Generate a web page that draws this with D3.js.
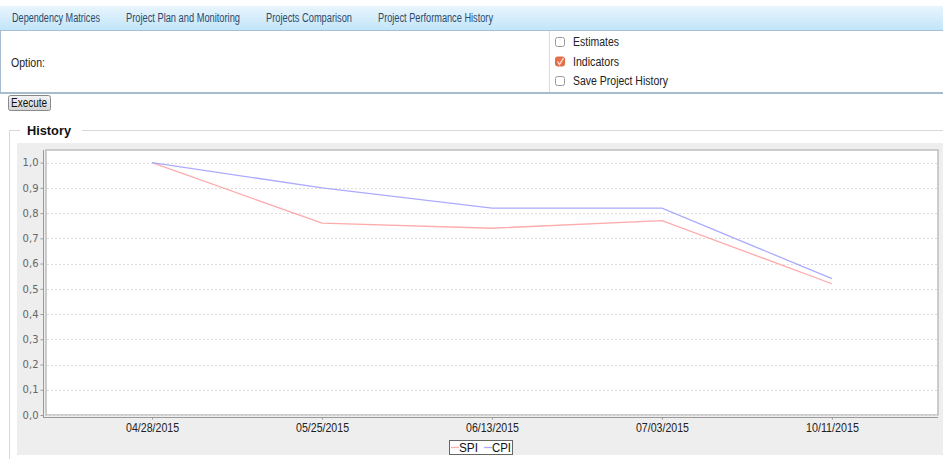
<!DOCTYPE html>
<html><head><meta charset="utf-8">
<script src="https://cdn.jsdelivr.net/npm/d3@7/dist/d3.min.js"></script>
<style>
html,body{margin:0;padding:0;background:#fff;}
svg{display:block;font-family:"Liberation Sans",Arial,sans-serif;}
</style></head>
<body>
<svg id="c" width="943" height="459"></svg>
<script>
const tabs = ["Dependency Matrices","Project Plan and Monitoring","Projects Comparison","Project Performance History"];
const tabX = [12,126,266,378];
const tabW = [88,114,86,115];
const options = ["Estimates","Indicators","Save Project History"];
const optionW = [46,46,95];
const optionChecked = [false,true,false];
const categories = ["04/28/2015","05/25/2015","06/13/2015","07/03/2015","10/11/2015"];
const spi = [1.0,0.76,0.74,0.77,0.52];
const cpi = [1.0,0.90,0.82,0.82,0.54];
const yTicks = [0,0.1,0.2,0.3,0.4,0.5,0.6,0.7,0.8,0.9,1.0];
const seriesNames = ["SPI","CPI"];
const seriesColors = ["#ffabab","#ababff"];

const svg = d3.select("#c");
const defs = svg.append("defs");
const g1 = defs.append("linearGradient").attr("id","tabg").attr("x1",0).attr("x2",0).attr("y1",0).attr("y2",1);
g1.append("stop").attr("offset","0%").attr("stop-color","#e8f5fd");
g1.append("stop").attr("offset","100%").attr("stop-color","#c2e5f9");
const g2 = defs.append("linearGradient").attr("id","btng").attr("x1",0).attr("x2",0).attr("y1",0).attr("y2",1);
g2.append("stop").attr("offset","0%").attr("stop-color","#f4f4f4");
g2.append("stop").attr("offset","100%").attr("stop-color","#d4d4d4");

function fit(sel, w){ sel.attr("textLength",w).attr("lengthAdjust","spacingAndGlyphs"); }

// tab bar
svg.append("rect").attr("x",0).attr("y",6).attr("width",943).attr("height",24).attr("fill","url(#tabg)");
svg.selectAll("text.tab").data(tabs).join("text").attr("class","tab")
  .attr("x",(d,i)=>tabX[i]).attr("y",22).attr("font-size",12).attr("fill","#2d4a6a").text(d=>d)
  .attr("textLength",(d,i)=>tabW[i]).attr("lengthAdjust","spacingAndGlyphs");

// option panel
svg.append("line").attr("x1",0).attr("x2",943).attr("y1",30.5).attr("y2",30.5).attr("stroke","#a8bfd3");
svg.append("line").attr("x1",0).attr("x2",943).attr("y1",93).attr("y2",93).attr("stroke","#a8bcd0").attr("stroke-width",2);
svg.append("line").attr("x1",0.5).attr("x2",0.5).attr("y1",30).attr("y2",93).attr("stroke","#a8bcd0");
svg.append("line").attr("x1",549.5).attr("x2",549.5).attr("y1",31).attr("y2",92).attr("stroke","#d6dde4");
svg.append("text").attr("x",11).attr("y",67).attr("font-size",12).attr("fill","#222").text("Option:").call(fit,34);
const og = svg.selectAll("g.opt").data(options).join("g").attr("class","opt")
  .attr("transform",(d,i)=>`translate(0,${42+i*19.5})`);
og.append("rect").attr("x",555.5).attr("y",-4.5).attr("width",9).attr("height",9).attr("rx",2)
  .attr("fill",(d,i)=>optionChecked[i]?"#e8704a":"#fff").attr("stroke",(d,i)=>optionChecked[i]?"#d86a48":"#9a9a9a");
og.filter((d,i)=>optionChecked[i]).append("path").attr("d","M557.5,0 L559.5,3 L563.5,-3.5")
  .attr("fill","none").attr("stroke","#fde0d4").attr("stroke-width",1.3);
og.append("text").attr("x",573).attr("y",4).attr("font-size",12).attr("fill","#222").text(d=>d)
  .attr("textLength",(d,i)=>optionW[i]).attr("lengthAdjust","spacingAndGlyphs");

// execute button
svg.append("rect").attr("x",8.5).attr("y",95.5).attr("width",42).attr("height",15).attr("rx",2)
  .attr("fill","url(#btng)").attr("stroke","#8a8a8a");
svg.append("text").attr("x",11).attr("y",107).attr("font-size",12).attr("fill","#111").text("Execute").call(fit,36);

// fieldset
svg.append("path").attr("d","M9.5,459 L9.5,130.5 L20,130.5 M82,130.5 L943,130.5").attr("fill","none").attr("stroke","#d8d8d8");
svg.append("text").attr("x",27).attr("y",135).attr("font-size",13).attr("font-weight","bold").attr("fill","#111").text("History").call(fit,44);

// chart panel
svg.append("rect").attr("x",17).attr("y",143).attr("width",926).attr("height",312).attr("fill","#eeeeee");

const L=46, R=938, T=150, B=415;
const x = d3.scalePoint().domain(categories).range([L,R]).padding(0.624);
const y = d3.scaleLinear().domain([0,1.05]).range([B,T]);

svg.append("rect").attr("x",L).attr("y",T).attr("width",R-L).attr("height",B-T)
  .attr("fill","#fff").attr("stroke","#bdbdbd").attr("stroke-width",1.5);

// gridlines
svg.append("g").selectAll("line").data(yTicks).join("line")
  .attr("x1",L+1).attr("x2",R-1).attr("y1",d=>Math.round(y(d))+0.5).attr("y2",d=>Math.round(y(d))+0.5)
  .attr("stroke","#dcdcdc").attr("stroke-dasharray","2,2");

// y axis
const yAxis = d3.axisLeft(y).tickValues(yTicks).tickSize(3).tickFormat(d=>d3.format(".1f")(d).replace(".",","));
const ya = svg.append("g").attr("transform","translate(43.5,0)").call(yAxis);
ya.select(".domain").attr("stroke","#9a9a9a").attr("d",`M0,${T}V${B+2.5}`);
ya.selectAll(".tick line").attr("stroke","#9a9a9a");
ya.selectAll(".tick text").attr("font-family","DejaVu Sans, sans-serif").attr("font-size",10).attr("fill","#666").attr("x",-5);

// x axis
const xAxis = d3.axisBottom(x).tickSize(2).tickSizeOuter(0);
const xa = svg.append("g").attr("transform",`translate(0,${B+2.5})`).call(xAxis);
xa.select(".domain").attr("stroke","#9a9a9a").attr("d",`M${L-3},0H${R}`);
xa.selectAll(".tick line").attr("stroke","#9a9a9a");
xa.selectAll(".tick text").attr("font-size",12).attr("fill","#222").attr("dy","0.71em").attr("y",6)
  .attr("textLength",53).attr("lengthAdjust","spacingAndGlyphs");

// lines
const series = [spi,cpi];
const line = d3.line().x((d,i)=>x(categories[i])).y(d=>y(d));
svg.append("g").selectAll("path").data(series).join("path")
  .attr("d",d=>line(d)).attr("fill","none").attr("stroke",(d,i)=>seriesColors[i]).attr("stroke-width",1.3);

// legend
svg.append("rect").attr("x",449.5).attr("y",440.5).attr("width",63).attr("height",14).attr("fill","#fff").attr("stroke","#666");
const lg = svg.selectAll("g.lg").data(seriesNames).join("g").attr("class","lg")
  .attr("transform",(d,i)=>`translate(${451+i*33},447.5)`);
lg.append("line").attr("x1",0).attr("x2",8).attr("stroke",(d,i)=>seriesColors[i]).attr("stroke-width",1.3);
lg.append("text").attr("x",8).attr("y",4.5).attr("font-size",12).attr("fill","#111").text(d=>d)
  .attr("textLength",19).attr("lengthAdjust","spacingAndGlyphs");
</script>
</body></html>
